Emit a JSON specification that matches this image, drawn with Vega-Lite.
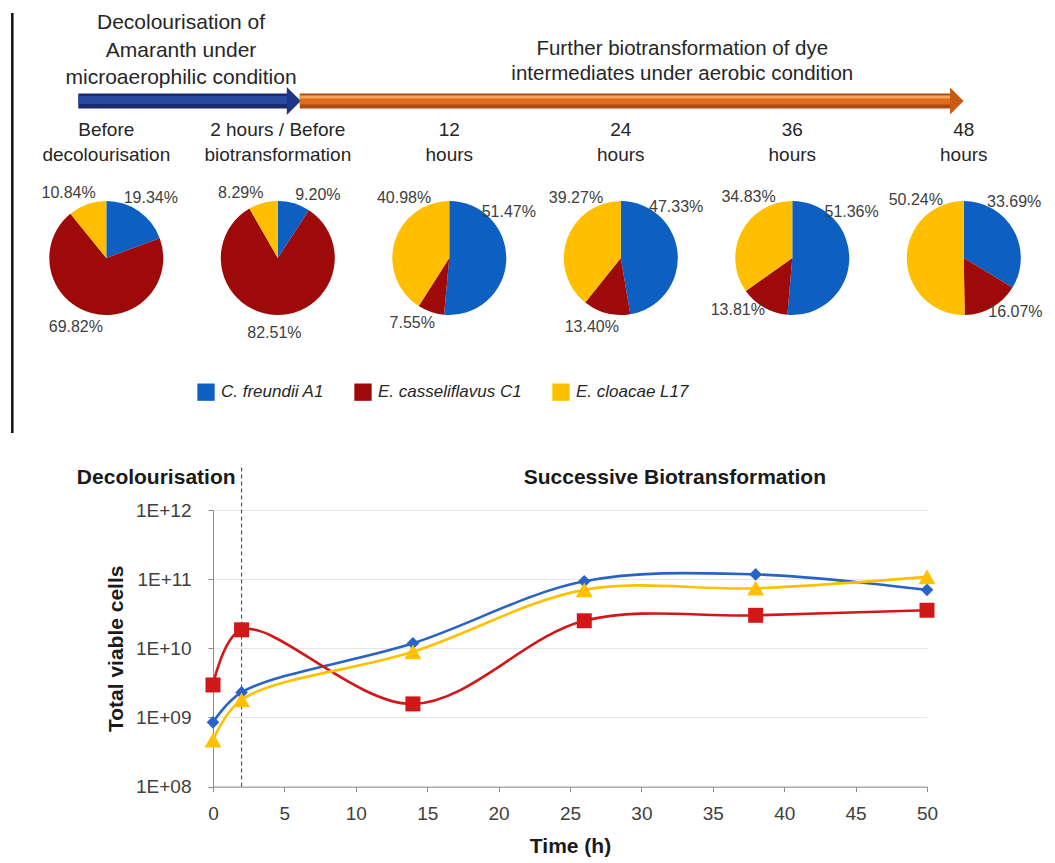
{
  "$schema": "https://vega.github.io/schema/vega-lite/v6.json",
  "background": "white",
  "padding": {"left": 11, "top": 11, "right": 0, "bottom": 0},
  "config": {
    "font": "Liberation Sans",
    "view": {"stroke": null},
    "axis": {"labelFont": "Liberation Sans", "titleFont": "Liberation Sans"},
    "legend": {"labelFont": "Liberation Sans"}
  },
  "bounds": "flush",
  "spacing": 0,
  "resolve": {"scale": {"x": "independent", "y": "independent", "color": "independent", "theta": "independent", "shape": "independent", "size": "independent"}},
  "datasets": {
    "phases": [
      {"condition": "microaerophilic", "heading": "Decolourisation of\nAmaranth under\nmicroaerophilic condition", "from": 0, "to": 1},
      {"condition": "aerobic", "heading": "Further biotransformation of dye\nintermediates under aerobic condition", "from": 1, "to": 5}
    ],
    "stages": [
      {"stage": 0, "label": "Before\ndecolourisation"},
      {"stage": 1, "label": "2 hours / Before\nbiotransformation"},
      {"stage": 2, "label": "12\nhours"},
      {"stage": 3, "label": "24\nhours"},
      {"stage": 4, "label": "36\nhours"},
      {"stage": 5, "label": "48\nhours"}
    ],
    "shares": [
      {"stage": 0, "species": "C. freundii A1", "pct": 19.34},
      {"stage": 0, "species": "E. casseliflavus C1", "pct": 69.82},
      {"stage": 0, "species": "E. cloacae L17", "pct": 10.84},
      {"stage": 1, "species": "C. freundii A1", "pct": 9.20},
      {"stage": 1, "species": "E. casseliflavus C1", "pct": 82.51},
      {"stage": 1, "species": "E. cloacae L17", "pct": 8.29},
      {"stage": 2, "species": "C. freundii A1", "pct": 51.47},
      {"stage": 2, "species": "E. casseliflavus C1", "pct": 7.55},
      {"stage": 2, "species": "E. cloacae L17", "pct": 40.98},
      {"stage": 3, "species": "C. freundii A1", "pct": 47.33},
      {"stage": 3, "species": "E. casseliflavus C1", "pct": 13.40},
      {"stage": 3, "species": "E. cloacae L17", "pct": 39.27},
      {"stage": 4, "species": "C. freundii A1", "pct": 51.36},
      {"stage": 4, "species": "E. casseliflavus C1", "pct": 13.81},
      {"stage": 4, "species": "E. cloacae L17", "pct": 34.83},
      {"stage": 5, "species": "C. freundii A1", "pct": 33.69},
      {"stage": 5, "species": "E. casseliflavus C1", "pct": 16.07},
      {"stage": 5, "species": "E. cloacae L17", "pct": 50.24}
    ],
    "periods": [
      {"period": "Decolourisation", "start": 0, "end": 2},
      {"period": "Successive Biotransformation", "start": 2, "end": 50}
    ],
    "counts": [
      {"time": 0, "species": "C. freundii A1", "cells": 850000000},
      {"time": 2, "species": "C. freundii A1", "cells": 2300000000},
      {"time": 14, "species": "C. freundii A1", "cells": 11800000000},
      {"time": 26, "species": "C. freundii A1", "cells": 93000000000},
      {"time": 38, "species": "C. freundii A1", "cells": 117000000000},
      {"time": 50, "species": "C. freundii A1", "cells": 70000000000},
      {"time": 0, "species": "E. casseliflavus C1", "cells": 2950000000},
      {"time": 2, "species": "E. casseliflavus C1", "cells": 18500000000},
      {"time": 14, "species": "E. casseliflavus C1", "cells": 1570000000},
      {"time": 26, "species": "E. casseliflavus C1", "cells": 25000000000},
      {"time": 38, "species": "E. casseliflavus C1", "cells": 30000000000},
      {"time": 50, "species": "E. casseliflavus C1", "cells": 35500000000},
      {"time": 0, "species": "E. cloacae L17", "cells": 470000000},
      {"time": 2, "species": "E. cloacae L17", "cells": 1800000000},
      {"time": 14, "species": "E. cloacae L17", "cells": 8900000000},
      {"time": 26, "species": "E. cloacae L17", "cells": 70000000000},
      {"time": 38, "species": "E. cloacae L17", "cells": 74000000000},
      {"time": 50, "species": "E. cloacae L17", "cells": 108000000000}
    ]
  },
  "vconcat": [
    {
      "width": 714,
      "height": 176,
      "layer": [
        {
          "data": {"values": [{"frame": "left"}]},
          "mark": {"type": "rule", "color": "#111111", "strokeWidth": 2.5},
          "encoding": {"x": {"datum": -0.548, "type": "quantitative", "scale": {"domain": [0.6222, 4.7855], "zero": false, "nice": false}, "axis": null}}
        },
        {
          "data": {"name": "phases"},
          "transform": [{"filter": "datum.condition === 'microaerophilic'"}],
          "mark": {"type": "rule", "color": "#1a2c70", "strokeWidth": 15, "strokeCap": "butt", "xOffset": -28, "x2Offset": 10},
          "encoding": {
            "x": {"field": "from", "type": "quantitative", "scale": {"domain": [0.6222, 4.7855], "zero": false, "nice": false}, "axis": null},
            "x2": {"field": "to"}
          }
        },
        {
          "data": {"name": "phases"},
          "transform": [{"filter": "datum.condition === 'microaerophilic'"}],
          "mark": {"type": "rule", "color": "#2b48a0", "strokeWidth": 8, "strokeCap": "butt", "xOffset": -28, "x2Offset": 10, "yOffset": -1},
          "encoding": {
            "x": {"field": "from", "type": "quantitative", "scale": {"domain": [0.6222, 4.7855], "zero": false, "nice": false}, "axis": null},
            "x2": {"field": "to"}
          }
        },
        {
          "data": {"name": "phases"},
          "transform": [{"filter": "datum.condition === 'microaerophilic'"}],
          "mark": {"type": "point", "shape": "M-0.5,-1L0.5,0L-0.5,1Z", "size": 784, "filled": true, "color": "#1f3688", "opacity": 1, "strokeWidth": 0, "xOffset": 16},
          "encoding": {
            "x": {"field": "to", "type": "quantitative", "scale": {"domain": [0.6222, 4.7855], "zero": false, "nice": false}, "axis": null}
          }
        },
        {
          "data": {"name": "phases"},
          "transform": [{"filter": "datum.condition === 'aerobic'"}],
          "mark": {"type": "rule", "color": "#b04a10", "strokeWidth": 15, "strokeCap": "butt", "xOffset": 22, "x2Offset": -12},
          "encoding": {
            "x": {"field": "from", "type": "quantitative", "scale": {"domain": [0.6222, 4.7855], "zero": false, "nice": false}, "axis": null},
            "x2": {"field": "to"}
          }
        },
        {
          "data": {"name": "phases"},
          "transform": [{"filter": "datum.condition === 'aerobic'"}],
          "mark": {"type": "rule", "color": "#de6c1c", "strokeWidth": 9, "strokeCap": "butt", "xOffset": 22, "x2Offset": -12, "yOffset": -1},
          "encoding": {
            "x": {"field": "from", "type": "quantitative", "scale": {"domain": [0.6222, 4.7855], "zero": false, "nice": false}, "axis": null},
            "x2": {"field": "to"}
          }
        },
        {
          "data": {"name": "phases"},
          "transform": [{"filter": "datum.condition === 'aerobic'"}],
          "mark": {"type": "rule", "color": "#f3a45c", "strokeWidth": 3, "strokeCap": "butt", "xOffset": 22, "x2Offset": -12, "yOffset": -4},
          "encoding": {
            "x": {"field": "from", "type": "quantitative", "scale": {"domain": [0.6222, 4.7855], "zero": false, "nice": false}, "axis": null},
            "x2": {"field": "to"}
          }
        },
        {
          "data": {"name": "phases"},
          "transform": [{"filter": "datum.condition === 'aerobic'"}],
          "mark": {"type": "point", "shape": "M-0.5,-1L0.5,0L-0.5,1Z", "size": 729, "filled": true, "color": "#c95a14", "opacity": 1, "strokeWidth": 0, "xOffset": -7},
          "encoding": {
            "x": {"field": "to", "type": "quantitative", "scale": {"domain": [0.6222, 4.7855], "zero": false, "nice": false}, "axis": null}
          }
        },
        {
          "data": {"name": "phases"},
          "transform": [{"filter": "datum.condition === 'microaerophilic'"}, {"calculate": "(datum.from + datum.to) / 2", "as": "mid"}],
          "mark": {"type": "text", "lineBreak": "\n", "fontSize": 21, "lineHeight": 27.5, "align": "center", "baseline": "middle", "dx": -11, "dy": -78, "color": "#262626"},
          "encoding": {
            "x": {"field": "mid", "type": "quantitative", "scale": {"domain": [0.6222, 4.7855], "zero": false, "nice": false}, "axis": null},
            "text": {"field": "heading", "type": "nominal"}
          }
        },
        {
          "data": {"name": "phases"},
          "transform": [{"filter": "datum.condition === 'aerobic'"}, {"calculate": "(datum.from + datum.to) / 2", "as": "mid"}],
          "mark": {"type": "text", "lineBreak": "\n", "fontSize": 20.5, "lineHeight": 25, "align": "center", "baseline": "middle", "dx": 61.5, "dy": -52.5, "color": "#262626"},
          "encoding": {
            "x": {"field": "mid", "type": "quantitative", "scale": {"domain": [0.6222, 4.7855], "zero": false, "nice": false}, "axis": null},
            "text": {"field": "heading", "type": "nominal"}
          }
        },
        {
          "data": {"name": "stages"},
          "mark": {"type": "text", "lineBreak": "\n", "fontSize": 19, "lineHeight": 25, "align": "center", "baseline": "middle", "dy": 28.5, "color": "#262626"},
          "encoding": {
            "x": {"field": "stage", "type": "quantitative", "scale": {"domain": [0.6222, 4.7855], "zero": false, "nice": false}, "axis": null},
            "text": {"field": "label", "type": "nominal"}
          }
        }
      ]
    },
    {
      "width": 714,
      "height": 138,
      "resolve": {"scale": {"theta": "independent"}},
      "layer": [
        {
          "data": {"values": [{"frame": "left"}]},
          "mark": {"type": "rule", "color": "#111111", "strokeWidth": 2.5},
          "encoding": {"x": {"datum": -0.548, "type": "quantitative", "scale": {"domain": [0.6222, 4.7855], "zero": false, "nice": false}, "axis": null}}
        },
        {
          "data": {"name": "shares"},
          "transform": [{"stack": "pct", "groupby": ["stage"], "sort": [{"field": "species", "order": "ascending"}], "offset": "normalize", "as": ["s0", "s1"]}],
          "mark": {"type": "arc", "outerRadius": 57},
          "encoding": {
            "x": {"field": "stage", "type": "quantitative", "stack": null, "scale": {"domain": [0.6222, 4.7855], "zero": false, "nice": false}, "axis": null},
            "theta": {"field": "s0", "type": "quantitative", "scale": {"domain": [0, 1]}, "stack": null},
            "theta2": {"field": "s1"},
            "color": {
              "field": "species", "type": "nominal",
              "scale": {"domain": ["C. freundii A1", "E. casseliflavus C1", "E. cloacae L17"], "range": ["#0d60c2", "#9e0a0a", "#ffbf00"]},
              "legend": {"orient": "none", "legendX": -16, "legendY": 194, "direction": "horizontal", "title": null, "symbolType": "square", "symbolSize": 300, "symbolStrokeWidth": 0, "labelFontSize": 17, "labelFontStyle": "italic", "labelColor": "#262626", "columnPadding": 30, "labelOffset": 6}
            }
          }
        },
        {
          "data": {"name": "shares"},
          "transform": [
            {"stack": "pct", "groupby": ["stage"], "sort": [{"field": "species", "order": "ascending"}], "offset": "normalize", "as": ["s0", "s1"]},
            {"calculate": "(datum.s0 + datum.s1) / 2", "as": "mid"},
            {"calculate": "format(datum.pct, '.2f') + '%'", "as": "label"}
          ],
          "mark": {"type": "text", "radius": 75, "fontSize": 16, "color": "#404040"},
          "encoding": {
            "x": {"field": "stage", "type": "quantitative", "stack": null, "scale": {"domain": [0.6222, 4.7855], "zero": false, "nice": false}, "axis": null},
            "theta": {"field": "mid", "type": "quantitative", "scale": {"type": "linear", "domain": [0, 0.25, 0.5, 0.75, 1], "range": [0.5, 0.85, 3.1416, 5.6, 5.8]}, "stack": null},
            "text": {"field": "label", "type": "nominal"}
          }
        }
      ]
    },
    {
      "width": 714,
      "height": 106,
      "data": {"values": [{"frame": "left"}]},
      "mark": {"type": "rule", "color": "#111111", "strokeWidth": 2.5},
      "encoding": {"x": {"datum": -0.548, "type": "quantitative", "scale": {"domain": [0.6222, 4.7855], "zero": false, "nice": false}, "axis": null}}
    },
    {
      "width": 714,
      "height": 76.7,
      "data": {"values": []},
      "mark": "point",
      "encoding": {}
    },
    {
      "width": 714,
      "height": 276.6,
      "layer": [
        {
          "data": {"values": [{"time": 2}]},
          "mark": {"type": "rule", "color": "#555555", "strokeWidth": 1.2, "strokeDash": [4, 3]},
          "encoding": {
            "x": {"field": "time", "type": "quantitative", "scale": {"domain": [0, 50], "nice": false, "zero": false}},
            "y": {"datum": 100000000, "type": "quantitative", "scale": {"type": "log", "domain": [100000000, 1000000000000], "nice": false}},
            "y2": {"datum": 4600000000000}
          }
        },
        {
          "data": {"name": "periods"},
          "transform": [{"filter": "datum.period === 'Decolourisation'"}],
          "mark": {"type": "text", "fontSize": 21, "fontWeight": "bold", "align": "right", "baseline": "middle", "dx": -6, "color": "#1a1a1a"},
          "encoding": {
            "x": {"field": "end", "type": "quantitative", "scale": {"domain": [0, 50], "nice": false, "zero": false}},
            "y": {"datum": 2880000000000, "type": "quantitative", "scale": {"type": "log", "domain": [100000000, 1000000000000], "nice": false}},
            "text": {"field": "period", "type": "nominal"}
          }
        },
        {
          "data": {"name": "periods"},
          "transform": [{"filter": "datum.period === 'Successive Biotransformation'"}],
          "mark": {"type": "text", "fontSize": 21, "fontWeight": "bold", "align": "right", "baseline": "middle", "dx": -101, "color": "#1a1a1a"},
          "encoding": {
            "x": {"field": "end", "type": "quantitative", "scale": {"domain": [0, 50], "nice": false, "zero": false}},
            "y": {"datum": 2880000000000, "type": "quantitative", "scale": {"type": "log", "domain": [100000000, 1000000000000], "nice": false}},
            "text": {"field": "period", "type": "nominal"}
          }
        },
        {
          "data": {"name": "counts"},
          "mark": {"type": "line", "interpolate": "catmull-rom", "strokeWidth": 2.6},
          "encoding": {
            "x": {
              "field": "time", "type": "quantitative",
              "scale": {"domain": [0, 50], "nice": false, "zero": false},
              "axis": {"title": "Time (h)", "values": [0, 5, 10, 15, 20, 25, 30, 35, 40, 45, 50], "grid": false, "labelFontSize": 19, "labelColor": "#404040", "titleFontSize": 21, "titleFontWeight": "bold", "titleColor": "#1a1a1a", "domainColor": "#8c8c8c", "tickColor": "#8c8c8c", "tickSize": 5, "labelPadding": 13, "titlePadding": 12, "labelFlush": false, "labelOverlap": false}
            },
            "y": {
              "field": "cells", "type": "quantitative",
              "scale": {"type": "log", "domain": [100000000, 1000000000000], "nice": false},
              "axis": {"title": "Total viable cells", "values": [100000000, 1000000000, 10000000000, 100000000000, 1000000000000], "labelExpr": "'1E+' + (round(log(datum.value) / LN10) < 10 ? '0' : '') + round(log(datum.value) / LN10)", "grid": true, "gridColor": "#e6e6e6", "labelFontSize": 19, "labelColor": "#404040", "titleFontSize": 21, "titleFontWeight": "bold", "titleColor": "#1a1a1a", "domainColor": "#8c8c8c", "tickColor": "#8c8c8c", "tickSize": 5, "labelPadding": 17, "titlePadding": 9, "labelFlush": false, "labelOverlap": false}
            },
            "color": {
              "field": "species", "type": "nominal",
              "scale": {"domain": ["C. freundii A1", "E. casseliflavus C1", "E. cloacae L17"], "range": ["#2a63c8", "#d01818", "#ffc000"]},
              "legend": null
            }
          }
        },
        {
          "data": {"name": "counts"},
          "mark": {"type": "point", "filled": true, "opacity": 1},
          "encoding": {
            "x": {"field": "time", "type": "quantitative", "scale": {"domain": [0, 50], "nice": false, "zero": false}},
            "y": {"field": "cells", "type": "quantitative", "scale": {"type": "log", "domain": [100000000, 1000000000000], "nice": false}},
            "color": {"field": "species", "type": "nominal", "scale": {"domain": ["C. freundii A1", "E. casseliflavus C1", "E. cloacae L17"], "range": ["#2a63c8", "#d01818", "#ffc000"]}, "legend": null},
            "shape": {"field": "species", "type": "nominal", "scale": {"domain": ["C. freundii A1", "E. casseliflavus C1", "E. cloacae L17"], "range": ["diamond", "square", "triangle-up"]}, "legend": null},
            "size": {"field": "species", "type": "ordinal", "scale": {"domain": ["C. freundii A1", "E. casseliflavus C1", "E. cloacae L17"], "range": [160, 290, 210]}, "legend": null}
          }
        }
      ]
    }
  ]
}
